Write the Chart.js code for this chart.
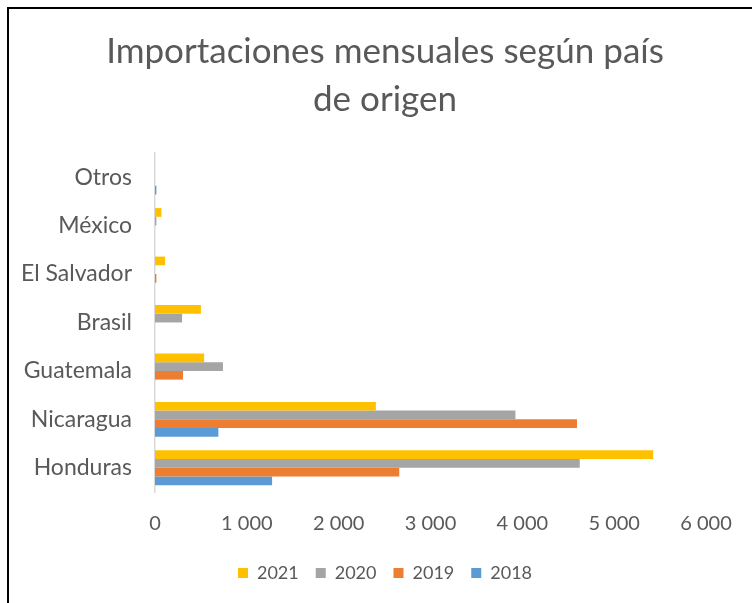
<!DOCTYPE html>
<html>
<head>
<meta charset="utf-8">
<script src="https://cdn.jsdelivr.net/npm/chart.js@4"></script>
<style>
  html, body { margin: 0; padding: 0; background: #fff; }
  #wrap { position: relative; width: 752px; height: 603px; overflow: hidden; }
  #frame {
    position: absolute; left: 7px; top: 7px; width: 760px; height: 620px;
    border-left: 2px solid #000; border-top: 2px solid #000;
  }
  canvas { position: absolute; left: 0; top: 0; }
</style>
</head>
<body>
<div id="wrap">
  <div id="frame"></div>
  <canvas id="importChart" width="752" height="603"></canvas>
</div>
<script>
/* -------------------------------------------------------
   Data
------------------------------------------------------- */
const categories = ['Otros', 'México', 'El Salvador', 'Brasil', 'Guatemala', 'Nicaragua', 'Honduras'];
const years      = ['2021', '2020', '2019', '2018'];
const values2021 = [0, 70, 110, 500, 535, 2405, 5425];
const values2020 = [0, 15, 0, 295, 740, 3925, 4625];
const values2019 = [0, 0, 15, 0, 305, 4595, 2660];
const values2018 = [15, 0, 0, 0, 0, 690, 1275];
const xTicks     = [0, 1000, 2000, 3000, 4000, 5000, 6000];

const COLORS = {
  y2021: '#FFC000',
  y2020: '#A5A5A5',
  y2019: '#ED7D31',
  y2018: '#5B9BD5',
  text:  '#595959',
  axis:  '#D9D9D9',
};

const FONT = "Lato, 'Open Sans', sans-serif";

// 1000 -> "1 000"
const fmt = v => String(v).replace(/\B(?=(\d{3})+(?!\d))/g, ' ');

const seriesValues = [values2021, values2020, values2019, values2018];
const seriesColors = [COLORS.y2021, COLORS.y2020, COLORS.y2019, COLORS.y2018];

new Chart(document.getElementById('importChart'), {
  type: 'bar',
  data: {
    labels: categories,
    datasets: years.map((y, i) => ({
      label: y,
      data: seriesValues[i],
      backgroundColor: seriesColors[i],
      borderWidth: 0,
      categoryPercentage: 0.72,
      barPercentage: 1.0,
    }))
  },
  options: {
    indexAxis: 'y',
    responsive: false,
    animation: false,
    layout: { padding: { left: 18, right: 0, top: 0, bottom: 11 } },
    plugins: {
      title: {
        display: true,
        text: ['Importaciones mensuales según país', 'de origen'],
        color: COLORS.text,
        font: { family: FONT, size: 35, weight: 'normal', lineHeight: 1.37 },
        padding: { top: 28, bottom: 29 },
      },
      legend: {
        position: 'bottom',
        labels: {
          color: COLORS.text,
          font: { family: FONT, size: 18 },
          boxWidth: 10,
          boxHeight: 10,
          padding: 17,
        }
      },
      tooltip: { enabled: false }
    },
    scales: {
      x: {
        min: 0,
        max: 6000,
        afterBuildTicks: axis => { axis.ticks = xTicks.map(v => ({ value: v })); },
        afterFit: axis => { axis.height = 55; axis.paddingRight = 46; },
        grid: { display: false, drawTicks: false },
        border: { display: false },
        ticks: {
          color: COLORS.text,
          font: { family: FONT, size: 20 },
          padding: 20,
          callback: v => fmt(v),
          maxRotation: 0,
        }
      },
      y: {
        afterFit: axis => { axis.width = 137; },
        grid: { display: false, drawTicks: false },
        border: { display: true, color: COLORS.axis, width: 1.5 },
        ticks: {
          color: COLORS.text,
          font: { family: FONT, size: 23 },
          padding: 23,
        }
      }
    }
  }
});
</script>
</body>
</html>
